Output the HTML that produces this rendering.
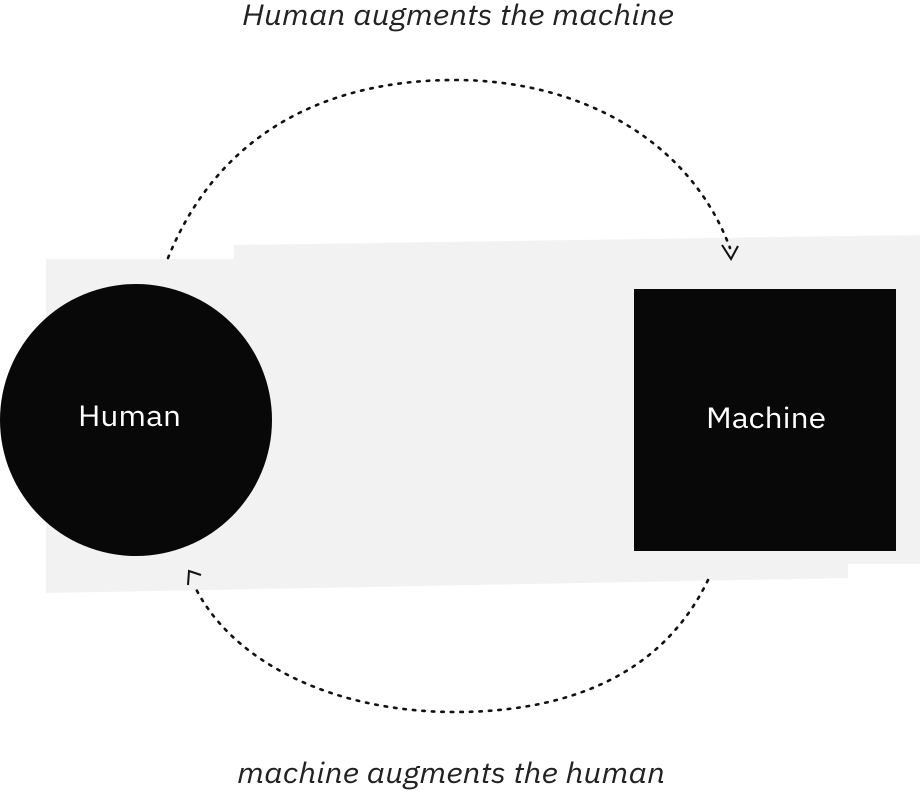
<!DOCTYPE html>
<html><head><meta charset="utf-8"><style>
body{margin:0;background:#fff;}
svg{display:block;font-family:"IBM Plex Sans","Liberation Sans",sans-serif;}
</style></head><body>
<svg width="922" height="792" viewBox="0 0 922 792">
<polygon fill="#f2f2f2" points="46,259 234,259 234,245 920,235 920,564 848,564 848,578 46,593"/>
<text x="242" y="25" textLength="432" lengthAdjust="spacingAndGlyphs" font-size="29" font-style="italic" fill="#222">Human augments the machine</text>
<text x="237" y="783" textLength="428" lengthAdjust="spacingAndGlyphs" font-size="29" font-style="italic" fill="#222">machine augments the human</text>
<path d="M168,258 C220,130 330,80 455,80 C580,80 690,140 730,248" fill="none" stroke="#111" stroke-width="2.6" stroke-dasharray="2.5,7" stroke-linecap="round"/>
<path d="M722,245 L731,259 L738,246" fill="none" stroke="#111" stroke-width="2"/>
<path d="M708,580 C660,680 560,712 455,712 C330,712 230,660 194,585" fill="none" stroke="#111" stroke-width="2.6" stroke-dasharray="2.5,7" stroke-linecap="round"/>
<path d="M201,575 L189,571 L188,585" fill="none" stroke="#111" stroke-width="2"/>
<circle cx="136" cy="420" r="136" fill="#080808"/>
<text x="78" y="426" textLength="103" lengthAdjust="spacingAndGlyphs" font-size="29" fill="#fff">Human</text>
<rect x="634" y="289" width="262" height="262" fill="#080808"/>
<text x="706" y="428" textLength="120" lengthAdjust="spacingAndGlyphs" font-size="29" fill="#fff">Machine</text>
</svg>
</body></html>
